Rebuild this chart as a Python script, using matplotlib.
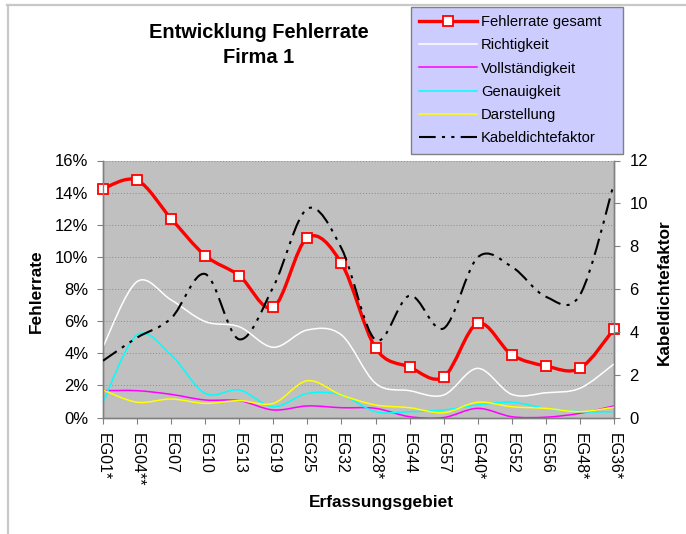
import numpy as np
import matplotlib
matplotlib.use('Agg')
import matplotlib.pyplot as plt
from matplotlib.path import Path
from matplotlib.patches import PathPatch
from matplotlib.lines import Line2D
from matplotlib.ticker import FuncFormatter, MultipleLocator

plt.rcParams['font.family'] = ['Liberation Sans', 'DejaVu Sans']

# Erfassungsgebiete in Reihenfolge der Auswertung
gebiete = ['EG01*', 'EG04**', 'EG07', 'EG10', 'EG13', 'EG19', 'EG25', 'EG32',
           'EG28*', 'EG44', 'EG57', 'EG40*', 'EG52', 'EG56', 'EG48*', 'EG36*']

# Fehlerraten in Prozent
gesamt = [14.25, 14.77, 12.38, 10.08, 8.83, 6.86, 11.2, 9.6,
          4.33, 3.14, 2.52, 5.86, 3.91, 3.21, 3.06, 5.51]
richtigkeit = [4.41, 8.46, 7.32, 5.97, 5.65, 4.37, 5.45, 5.14,
               2.13, 1.67, 1.40, 3.06, 1.44, 1.54, 1.82, 3.33]
vollstaendigkeit = [1.67, 1.67, 1.44, 1.09, 1.05, 0.47, 0.72, 0.61,
                    0.57, 0.05, 0.0, 0.57, 0.05, 0.02, 0.26, 0.72]
genauigkeit = [0.95, 5.14, 3.89, 1.5, 1.71, 0.67, 1.5, 1.4,
               0.36, 0.36, 0.47, 0.78, 0.95, 0.57, 0.36, 0.36]
darstellung = [1.71, 0.95, 1.15, 0.88, 1.05, 0.88, 2.29, 1.4,
               0.78, 0.61, 0.3, 0.95, 0.67, 0.57, 0.36, 0.64]

# Kabeldichtefaktor (rechte Achse)
kabeldichte = [2.65, 3.73, 4.63, 6.7, 3.65, 6.1, 9.75, 7.9,
               3.62, 5.69, 4.16, 7.48, 7.04, 5.64, 5.72, 10.93]

KABEL_DASH = (0, (8, 3, 1.5, 3, 1.5, 3))


def smooth_path(x, y):
    # geglaettete Linie als Bezier-Kurve durch alle Punkte
    x = np.asarray(x, float)
    y = np.asarray(y, float)
    n = len(x)
    verts = [(x[0], y[0])]
    codes = [Path.MOVETO]
    for i in range(n - 1):
        a = i - 1 if i > 0 else i
        b = i + 2 if i + 2 < n else i + 1
        c1 = (x[i] + (x[i + 1] - x[a]) / 6, y[i] + (y[i + 1] - y[a]) / 6)
        c2 = (x[i + 1] - (x[b] - x[i]) / 6, y[i + 1] - (y[b] - y[i]) / 6)
        verts += [c1, c2, (x[i + 1], y[i + 1])]
        codes += [Path.CURVE4] * 3
    return Path(verts, codes)


def add_curve(ax, x, y, **kw):
    patch = PathPatch(smooth_path(x, y), fill=False, capstyle='butt', **kw)
    ax.add_patch(patch)
    return patch


fig = plt.figure(figsize=(6.86, 5.34), dpi=100)
ax = fig.add_axes([103 / 686, 1 - 417.5 / 534, 511 / 686, 257 / 534])
ax.set_facecolor('#C0C0C0')

x = np.arange(len(gebiete))
add_curve(ax, x, richtigkeit, edgecolor='white', linewidth=1.1, zorder=3)
add_curve(ax, x, vollstaendigkeit, edgecolor='#FF00FF', linewidth=1.1, zorder=3)
add_curve(ax, x, genauigkeit, edgecolor='#00FFFF', linewidth=1.1, zorder=3)
add_curve(ax, x, darstellung, edgecolor='#FFFF00', linewidth=1.1, zorder=3)
add_curve(ax, x, gesamt, edgecolor='#FF0000', linewidth=2.4, zorder=4)
ax.plot(x, gesamt, linestyle='none', marker='s', markersize=6.5,
        markerfacecolor='white', markeredgecolor='#FF0000', markeredgewidth=1.3,
        zorder=5, clip_on=False)

ax.set_xlim(0, len(gebiete) - 1)
ax.set_ylim(0, 16)
ax.yaxis.set_major_locator(MultipleLocator(2))
ax.yaxis.set_major_formatter(FuncFormatter(lambda v, p: '{:.0f}%'.format(v)))
ax.grid(axis='y', color='#8C8C8C', linestyle=(0, (1, 2)), linewidth=0.7)
ax.set_axisbelow(True)
ax.set_xticks(x)
ax.set_xticklabels(gebiete, rotation=270, fontsize=11.5)
ax.tick_params(axis='x', direction='out', length=4.5, width=0.8, color='#808080', pad=6.5)
ax.tick_params(axis='y', direction='out', length=4.5, width=0.8, color='#808080',
               pad=6, labelsize=12)
for lbl in ax.get_xticklabels():
    lbl.set_horizontalalignment('center')
    lbl.set_verticalalignment('top')

ax2 = ax.twinx()
add_curve(ax2, x, kabeldichte, edgecolor='black', linewidth=1.5,
          linestyle=KABEL_DASH, zorder=3)
ax2.set_ylim(0, 12)
ax2.yaxis.set_major_locator(MultipleLocator(2))
ax2.tick_params(axis='y', direction='out', length=4.5, width=0.8, color='#808080',
                pad=6.5, labelsize=12)

for a in (ax, ax2):
    a.spines['top'].set_visible(False)
    for s in ('left', 'right', 'bottom'):
        a.spines[s].set_color('#808080')
        a.spines[s].set_linewidth(1.0)

# Titel und Achsenbeschriftungen
fig.text(259 / 686, 1 - 45 / 534, 'Entwicklung Fehlerrate\nFirma 1', ha='center',
         va='center', fontsize=14.4, fontweight='bold', linespacing=1.35)
fig.text(36 / 686, 1 - 291 / 534, 'Fehlerrate', rotation=90, ha='center',
         va='center', fontsize=12.4, fontweight='bold')
fig.text(664 / 686, 1 - 292 / 534, 'Kabeldichtefaktor', rotation=90, ha='center',
         va='center', fontsize=12.4, fontweight='bold')
fig.text(381 / 686, 1 - 503 / 534, 'Erfassungsgebiet', ha='center',
         va='center', fontsize=12.4, fontweight='bold')

# Legende
handles = [
    Line2D([], [], color='#FF0000', linewidth=2.4, marker='s', markersize=6.5,
           markerfacecolor='white', markeredgecolor='#FF0000', markeredgewidth=1.3),
    Line2D([], [], color='white', linewidth=1.1),
    Line2D([], [], color='#FF00FF', linewidth=1.1),
    Line2D([], [], color='#00FFFF', linewidth=1.1),
    Line2D([], [], color='#FFFF00', linewidth=1.1),
    Line2D([], [], color='black', linewidth=1.5, linestyle=KABEL_DASH),
]
names = ['Fehlerrate gesamt', 'Richtigkeit', 'Vollständigkeit', 'Genauigkeit',
         'Darstellung', 'Kabeldichtefaktor']
leg = fig.legend(handles, names, loc='upper left',
                 bbox_to_anchor=(411 / 686, 1 - 148 / 534, 212 / 686, 141 / 534),
                 mode='expand', borderaxespad=0, fontsize=10.6, fancybox=False,
                 framealpha=1, facecolor='#CCCCFF', edgecolor='#808080',
                 handlelength=3.9, handletextpad=0.3, labelspacing=0.63,
                 borderpad=0.55)
leg.get_frame().set_linewidth(1.0)

# Rahmen des Diagrammbereichs
fig.add_artist(Line2D([7 / 686, 1], [1 - 5 / 534, 1 - 5 / 534], color='#C8C8C8',
                      linewidth=1.6, transform=fig.transFigure))
fig.add_artist(Line2D([8 / 686, 8 / 686], [1 - 5 / 534, 0], color='#C8C8C8',
                      linewidth=1.6, transform=fig.transFigure))

fig.savefig('out.png', dpi=100)
